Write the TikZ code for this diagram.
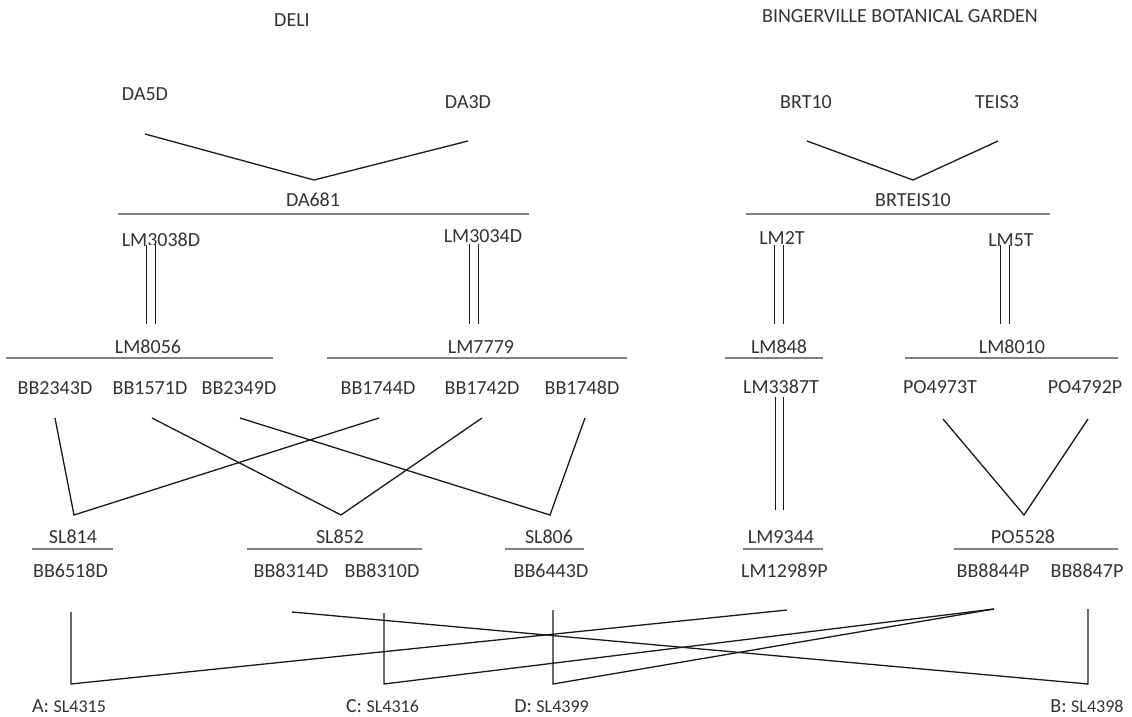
\documentclass[tikz,border=0pt]{standalone}
\usepackage{fontspec}
\setmainfont{Carlito}
\usepackage{tikz}
\usetikzlibrary{positioning, calc}

\newcommand{\sln}[1]{{\fontsize{18}{22}\selectfont #1}}

\begin{document}
\begin{tikzpicture}[x=1pt, y=-1pt,
    every node/.style={inner sep=0pt, text=black!80, font=\fontsize{20}{24}\selectfont},
    bar/.style={draw=black!50, line width=2.4pt},
    link/.style={draw=black!90, line width=1.3pt},
    dbl/.style={draw=black!90, double, double distance=7.6pt, line width=1.1pt}]

\useasboundingbox (0, 0) rectangle (1132, 717);

% headings
\node (deli) at (292, 20) {DELI};
\node (bbg) at (900, 16) {BINGERVILLE BOTANICAL GARDEN};

% first parents
\node (da5d) at (145, 94) {DA5D};
\node (da3d) at ($(da5d) + (323, 8)$) {DA3D};
\node (brt10) at (806, 102) {BRT10};
\node (teis3) at ($(brt10) + (191, 0)$) {TEIS3};

\node (da681) at (313, 200) {DA681};
\node (brteis10) at (913, 200) {BRTEIS10};

\node (lm3038d) at (161, 240) {LM3038D};
\node (lm3034d) at (483, 236) {LM3034D};
\node (lm2t) at (782, 238) {LM2T};
\node (lm5t) at (1011, 240) {LM5T};

% second row
\node (lm8056) at (148, 347) {LM8056};
\node (lm7779) at (481, 347) {LM7779};
\node (lm848) at (779, 347) {LM848};
\node (lm8010) at (1012, 347) {LM8010};

\node (bb2343d) at (55, 388) {BB2343D};
\node (bb1571d) at ($(bb2343d) + (95, 0)$) {BB1571D};
\node (bb2349d) at ($(bb1571d) + (89, 0)$) {BB2349D};
\node (bb1744d) at (378, 388) {BB1744D};
\node (bb1742d) at ($(bb1744d) + (104, 0)$) {BB1742D};
\node (bb1748d) at ($(bb1742d) + (100, 0)$) {BB1748D};
\node (lm3387t) at (781, 387) {LM3387T};
\node (po4973t) at (940, 387) {PO4973T};
\node (po4792p) at ($(po4973t) + (145, 0)$) {PO4792P};

% third row
\node (sl814) at (73, 537) {SL814};
\node (sl852) at (340, 537) {SL852};
\node (sl806) at (549, 537) {SL806};
\node (lm9344) at (781, 537) {LM9344};
\node (po5528) at (1023, 537) {PO5528};

\node (bb6518d) at (70.5, 571) {BB6518D};
\node (bb8314d) at (291, 571) {BB8314D};
\node (bb8310d) at ($(bb8314d) + (91, 0)$) {BB8310D};
\node (bb6443d) at (551, 571) {BB6443D};
\node (lm12989p) at (784.5, 571) {LM12989P};
\node (bb8844p) at (993, 571) {BB8844P};
\node (bb8847p) at ($(bb8844p) + (94, 0)$) {BB8847P};

% results
\node (resA) at (69, 706) {A: \sln{SL4315}};
\node (resC) at (382.5, 706) {C: \sln{SL4316}};
\node (resD) at (551.5, 706) {D: \sln{SL4399}};
\node (resB) at (1087, 706) {B: \sln{SL4398}};

\coordinate (cA) at (71, 684);
\coordinate (cC) at (384, 684);
\coordinate (cD) at (553, 684);
\coordinate (cB) at (1088, 684);

% bars
\draw [bar] ($(da681) + (-195, 14)$) -- ($(da681) + (216, 14)$);
\draw [bar] ($(brteis10) + (-167, 14)$) -- ($(brteis10) + (137, 14)$);
\draw [bar] ($(lm8056) + (-142, 11)$) -- ($(lm8056) + (125, 11)$);
\draw [bar] ($(lm7779) + (-154, 11)$) -- ($(lm7779) + (146, 11)$);
\draw [bar] ($(lm848) + (-54, 11)$) -- ($(lm848) + (44, 11)$);
\draw [bar] ($(lm8010) + (-107, 11)$) -- ($(lm8010) + (106, 11)$);
\draw [bar] ($(sl814) + (-41, 12)$) -- ($(sl814) + (40, 12)$);
\draw [bar] ($(sl852) + (-93, 12)$) -- ($(sl852) + (82, 12)$);
\draw [bar] ($(sl806) + (-44, 12)$) -- ($(sl806) + (35, 12)$);
\draw [bar] ($(lm9344) + (-38, 12)$) -- ($(lm9344) + (42, 12)$);
\draw [bar] ($(po5528) + (-69, 12)$) -- ($(po5528) + (95, 12)$);

% crosses
\draw [link] ($(da5d) + (0, 40)$) -- ($(da681) + (1, -20)$) -- ($(da3d) + (0, 39)$);
\draw [link] ($(brt10) + (1, 39)$) -- ($(brteis10) + (0, -20)$) -- ($(teis3) + (1, 39)$);

\draw [link] ($(bb2343d) + (0, 30)$) -- ($(sl814) + (1, -22)$) -- ($(bb1744d) + (1, 30)$);
\draw [link] ($(bb1571d) + (2, 30)$) -- ($(sl852) + (1, -22)$) -- ($(bb1742d) + (0, 30)$);
\draw [link] ($(bb2349d) + (1, 30)$) -- ($(sl806) + (1, -22)$) -- ($(bb1748d) + (3, 30)$);
\draw [link] ($(po4973t) + (3, 32)$) -- ($(po5528) + (1, -22)$) -- ($(po4792p) + (3, 32)$);

% selfings
\draw [dbl] ($(lm3038d) + (-10, 5)$) -- ($(lm8056) + (3, -23)$);
\draw [dbl] ($(lm3034d) + (-9, 8)$) -- ($(lm7779) + (-7, -23)$);
\draw [dbl] ($(lm2t) + (-3, 7)$) -- ($(lm848) + (0, -23)$);
\draw [dbl] ($(lm5t) + (-6, 5)$) -- ($(lm8010) + (-7, -23)$);
\draw [dbl] ($(lm3387t) + (-1.5, 10)$) -- ($(lm9344) + (-1.5, -27)$);

% final crosses
\draw [link] ($(bb6518d) + (0.5, 41)$) -- (cA) -- ($(lm12989p) + (2.5, 39)$);
\draw [link] ($(bb8847p) + (1, 38)$) -- (cB) -- ($(bb8314d) + (1, 41)$);
\draw [link] ($(bb8310d) + (2, 42)$) -- (cC) -- ($(bb8844p) + (1, 38)$);
\draw [link] ($(bb6443d) + (2, 39)$) -- (cD) -- ($(bb8844p) + (1, 38)$);

\end{tikzpicture}
\end{document}
